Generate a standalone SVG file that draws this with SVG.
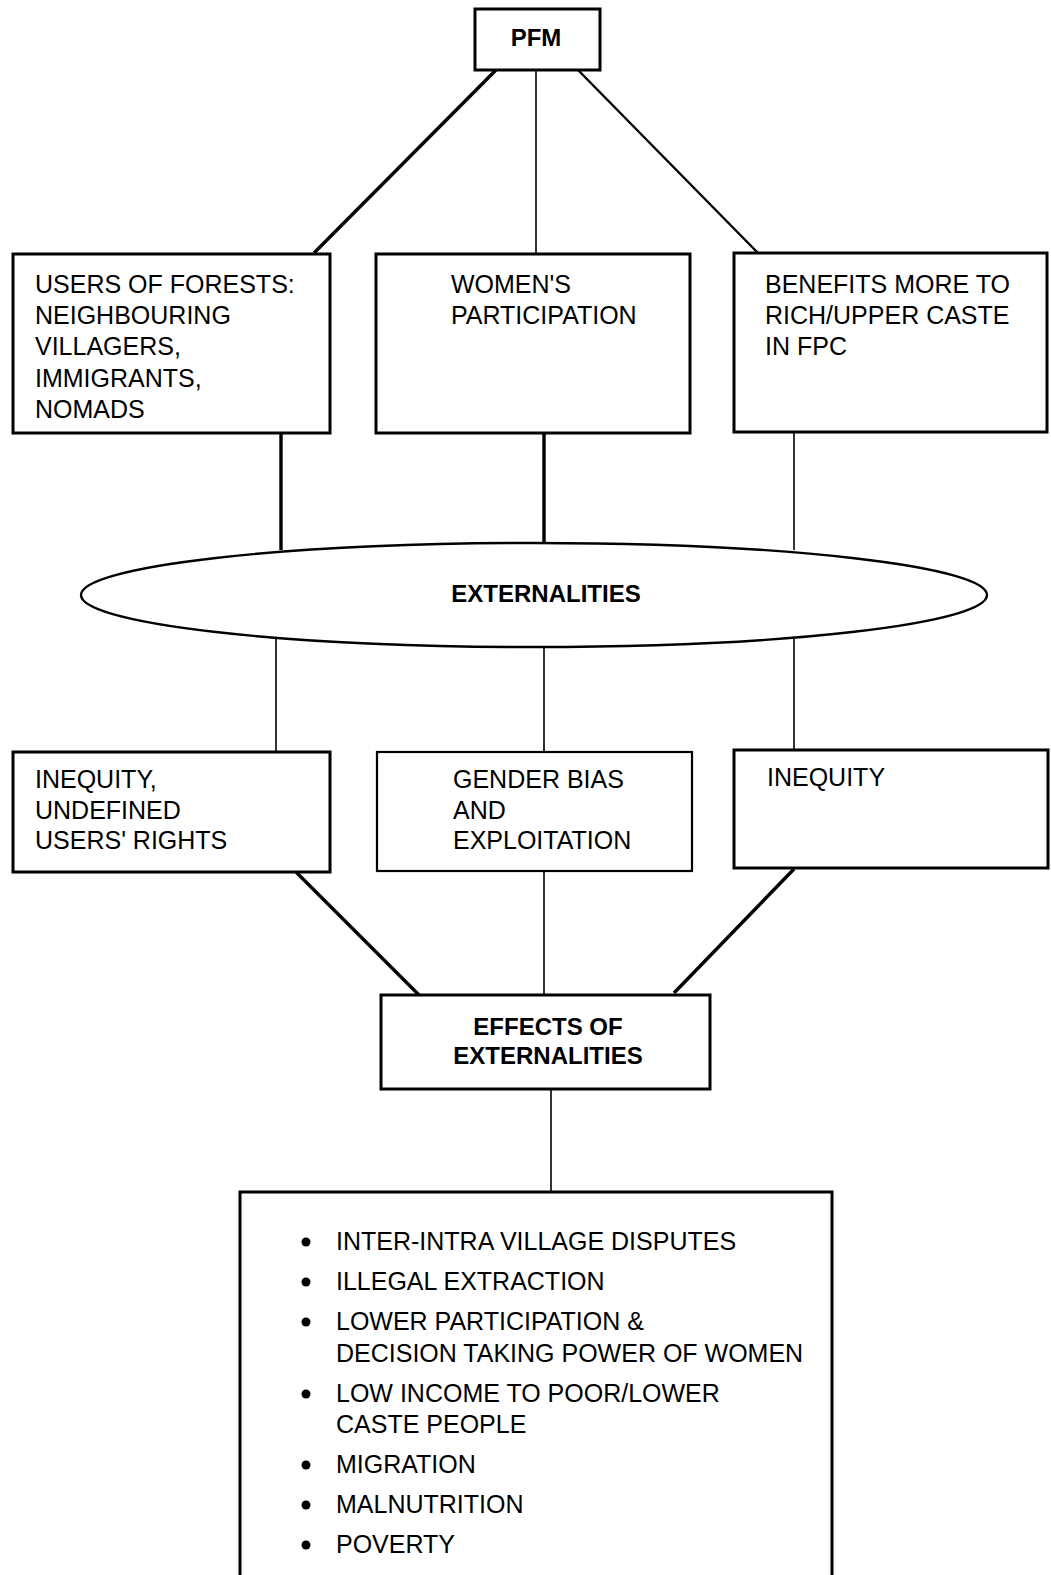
<svg xmlns="http://www.w3.org/2000/svg" width="1051" height="1575" viewBox="0 0 1051 1575">
  <style>
    .box { fill: #ffffff; stroke: #000000; stroke-width: 3; }
    .thin { fill: #ffffff; stroke: #000000; stroke-width: 2.2; }
    .t { font-family: "Liberation Sans", Arial, sans-serif; font-size: 25px; fill: #000000; }
    .b { font-family: "Liberation Sans", Arial, sans-serif; font-size: 24px; font-weight: bold; fill: #000000; text-anchor: middle; }
    .c { stroke: #000000; fill: none; stroke-linecap: butt; }
    .w1 { stroke-width: 1.6; }
    .w2 { stroke-width: 2.4; }
    .w3 { stroke-width: 3.4; }
  </style>
  <rect width="1051" height="1575" fill="#ffffff"/>

  <!-- connectors -->
  <g id="connectors">
    <line class="c w3" x1="496" y1="70" x2="314" y2="253"/>
    <line class="c w1" x1="536" y1="70" x2="536" y2="253"/>
    <line class="c w2" x1="578" y1="70" x2="758" y2="253"/>

    <line class="c w3" x1="281" y1="433" x2="281" y2="550"/>
    <line class="c w3" x1="544" y1="433" x2="544" y2="543"/>
    <line class="c w1" x1="794" y1="432" x2="794" y2="550"/>

    <line class="c w1" x1="276" y1="636" x2="276" y2="752"/>
    <line class="c w1" x1="544" y1="648" x2="544" y2="752"/>
    <line class="c w1" x1="794" y1="636" x2="794" y2="750"/>

    <line class="c w3" x1="296" y1="872" x2="419" y2="995"/>
    <line class="c w1" x1="544" y1="872" x2="544" y2="995"/>
    <line class="c w3" x1="794" y1="869" x2="674" y2="993"/>

    <line class="c w1" x1="551" y1="1089" x2="551" y2="1192"/>
  </g>

  <!-- top node -->
  <g id="pfm">
    <rect class="box" x="475" y="9" width="125" height="61"/>
    <text class="b" x="536" y="46">PFM</text>
  </g>

  <!-- first row -->
  <g id="users">
    <rect class="box" x="13" y="254" width="317" height="179"/>
    <text class="t" x="35" y="293">USERS OF FORESTS:</text>
    <text class="t" x="35" y="324">NEIGHBOURING</text>
    <text class="t" x="35" y="355">VILLAGERS,</text>
    <text class="t" x="35" y="387">IMMIGRANTS,</text>
    <text class="t" x="35" y="418">NOMADS</text>
  </g>

  <g id="women">
    <rect class="box" x="376" y="254" width="314" height="179"/>
    <text class="t" x="451" y="293">WOMEN'S</text>
    <text class="t" x="451" y="324">PARTICIPATION</text>
  </g>

  <g id="benefits">
    <rect class="box" x="734" y="253" width="313" height="179"/>
    <text class="t" x="765" y="293">BENEFITS MORE TO</text>
    <text class="t" x="765" y="324">RICH/UPPER CASTE</text>
    <text class="t" x="765" y="355">IN FPC</text>
  </g>

  <!-- central ellipse -->
  <g id="externalities">
    <ellipse cx="534" cy="595" rx="453" ry="52" fill="#ffffff" stroke="#000000" stroke-width="2.4"/>
    <text class="b" x="546" y="602">EXTERNALITIES</text>
  </g>

  <!-- second row -->
  <g id="inequity-users">
    <rect class="box" x="13" y="752" width="317" height="120"/>
    <text class="t" x="35" y="788">INEQUITY,</text>
    <text class="t" x="35" y="819">UNDEFINED</text>
    <text class="t" x="35" y="849">USERS' RIGHTS</text>
  </g>

  <g id="gender">
    <rect class="thin" x="377" y="752" width="315" height="119"/>
    <text class="t" x="453" y="788">GENDER BIAS</text>
    <text class="t" x="453" y="819">AND</text>
    <text class="t" x="453" y="849">EXPLOITATION</text>
  </g>

  <g id="inequity">
    <rect class="box" x="734" y="750" width="314" height="118"/>
    <text class="t" x="767" y="786">INEQUITY</text>
  </g>

  <!-- effects node -->
  <g id="effects">
    <rect class="box" x="381" y="995" width="329" height="94"/>
    <text class="b" x="548" y="1035">EFFECTS OF</text>
    <text class="b" x="548" y="1064">EXTERNALITIES</text>
  </g>

  <!-- list of effects -->
  <g id="effects-list">
    <rect class="box" x="240" y="1192" width="592" height="420"/>
    <g fill="#000000">
      <circle cx="306" cy="1242" r="4.5"/>
      <circle cx="306" cy="1282" r="4.5"/>
      <circle cx="306" cy="1322" r="4.5"/>
      <circle cx="306" cy="1394" r="4.5"/>
      <circle cx="306" cy="1465" r="4.5"/>
      <circle cx="306" cy="1505" r="4.5"/>
      <circle cx="306" cy="1545" r="4.5"/>
    </g>
    <text class="t" x="336" y="1250">INTER-INTRA VILLAGE DISPUTES</text>
    <text class="t" x="336" y="1290">ILLEGAL EXTRACTION</text>
    <text class="t" x="336" y="1330">LOWER PARTICIPATION &amp;</text>
    <text class="t" x="336" y="1362">DECISION TAKING POWER OF WOMEN</text>
    <text class="t" x="336" y="1402">LOW INCOME TO POOR/LOWER</text>
    <text class="t" x="336" y="1433">CASTE PEOPLE</text>
    <text class="t" x="336" y="1473">MIGRATION</text>
    <text class="t" x="336" y="1513">MALNUTRITION</text>
    <text class="t" x="336" y="1553">POVERTY</text>
  </g>
</svg>
